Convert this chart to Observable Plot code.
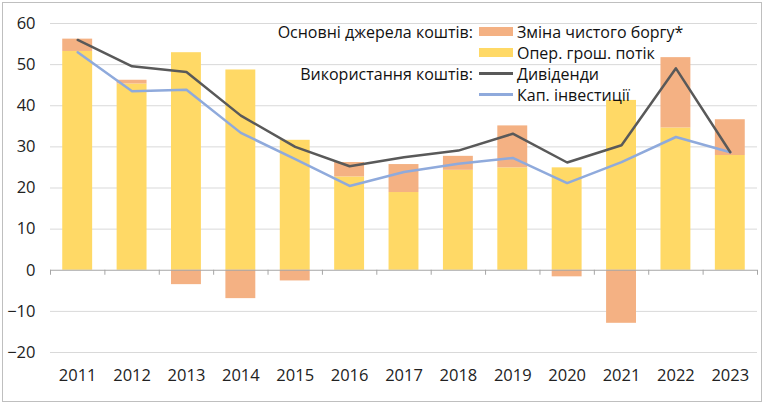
<!DOCTYPE html>
<html><head><meta charset="utf-8">
<script src="https://cdn.jsdelivr.net/npm/d3@7"></script>
<script src="https://cdn.jsdelivr.net/npm/@observablehq/plot@0.6"></script>
<style>
body{margin:0;background:#fff;font-family:"Open Sans",sans-serif;}
#wrap{position:relative;width:764px;height:405px;overflow:hidden}
#frame{position:absolute;left:2px;top:2px;width:760px;height:400px;border:1.5px solid #bfbfbf;box-sizing:border-box;pointer-events:none}
.lg{position:absolute;font-size:16px;color:#111;line-height:18px;white-space:nowrap}
.hd{text-align:right;width:230px}
.sw{position:absolute;width:34px}
</style></head>
<body><div id="wrap"><div id="frame"></div></div>
<script>
const years = [2011,2012,2013,2014,2015,2016,2017,2018,2019,2020,2021,2022,2023];
const opCashFlow = [53.2,45.3,52.9,48.7,31.6,22.7,18.9,24.3,24.9,24.9,41.3,34.6,27.9];
const netDebtChange = [3.0,0.9,-3.5,-6.9,-2.6,3.5,6.8,3.4,10.2,-1.6,-12.9,17.1,8.7];
const dividends = [56.0,49.6,48.2,37.6,30.0,25.3,27.5,29.1,33.2,26.2,30.4,49.1,28.7];
const capex = [53.0,43.5,43.9,33.4,27.0,20.5,23.9,25.9,27.3,21.2,26.3,32.4,28.7];
const yTicks = [-20,-10,0,10,20,30,40,50,60];
const seriesNames = ["Опер. грош. потік","Зміна чистого боргу*"];
const lineNames = ["Дивіденди","Кап. інвестиції"];
const headers = ["Основні джерела коштів:","Використання коштів:"];
const colors = {bar0:"#FFD966", bar1:"#F4B183", div:"#595959", cap:"#8FAADC"};

const bars = [];
years.forEach((y,i)=>{
  bars.push({year:y, series:seriesNames[0], value:opCashFlow[i]});
  bars.push({year:y, series:seriesNames[1], value:netDebtChange[i]});
});
const half = 0.275;
const boundaries = [years[0]-0.5, ...years.map(y=>y+0.5)];

const chart = Plot.plot({
  width:764, height:405,
  marginLeft:50, marginRight:7, marginTop:23, marginBottom:53,
  style:{fontFamily:"Open Sans", fontSize:"16px", color:"#222", background:"transparent"},
  x:{domain:[years[0]-0.5, years[years.length-1]+0.5]},
  y:{domain:[-20,60]},
  color:{domain:seriesNames, range:[colors.bar0, colors.bar1]},
  marks:[
    Plot.ruleY(yTicks.filter(t=>t!==0), {stroke:"#d9d9d9", strokeWidth:1}),
    Plot.rectY(bars, {x1:d=>d.year-half, x2:d=>d.year+half, y:"value", fill:"series", order:seriesNames}),
    Plot.ruleY([0], {stroke:"#a6a6a6", strokeWidth:1}),
    Plot.ruleX(boundaries, {y1:0, y2:0, insetBottom:-5, stroke:"#a6a6a6", strokeWidth:1}),
    Plot.lineY(capex, {x:years, y:capex, stroke:colors.cap, strokeWidth:2.5}),
    Plot.lineY(dividends, {x:years, y:dividends, stroke:colors.div, strokeWidth:2.5}),
    Plot.axisY({ticks:yTicks, tickSize:0, tickPadding:15, fontSize:16.5, label:null}),
    Plot.axisX({ticks:years, tickSize:0, tickPadding:17, fontSize:16.5, tickFormat:d=>String(d), label:null})
  ]
});
const wrap = document.getElementById("wrap");
wrap.insertBefore(chart, wrap.firstChild);

// legend overlay
const rows = [22.5, 43.5, 64.5, 85.5];
function add(html, cls, style){const e=document.createElement("div");e.className=cls;e.textContent=html;Object.assign(e.style,style);wrap.appendChild(e);return e;}
add(headers[0],"lg hd",{left:"243px", top:rows[0]+"px"});
add(headers[1],"lg hd",{left:"243px", top:rows[2]+"px"});
const items = [
  {label:seriesNames[1], color:colors.bar1, h:9},
  {label:seriesNames[0], color:colors.bar0, h:9},
  {label:lineNames[0], color:colors.div, h:2.5},
  {label:lineNames[1], color:colors.cap, h:2.5}
];
items.forEach((it,i)=>{
  add("","sw",{left:"479px", top:(rows[i]+9-it.h/2)+"px", height:it.h+"px", background:it.color});
  add(it.label,"lg",{left:"517px", top:rows[i]+"px"});
});
</script></body></html>
